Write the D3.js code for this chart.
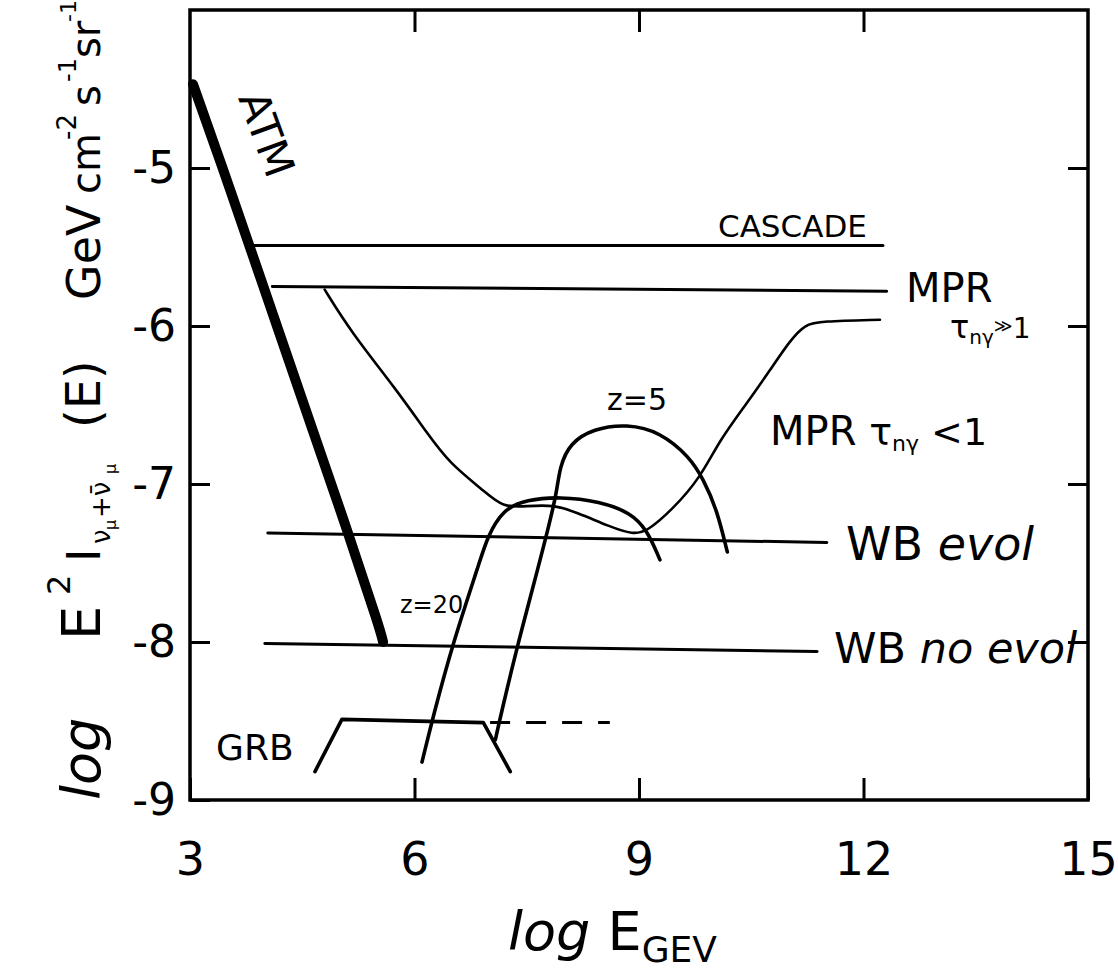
<!DOCTYPE html>
<html>
<head>
<meta charset="utf-8">
<script src="https://cdn.jsdelivr.net/npm/d3@7.9.0/dist/d3.min.js"></script>
<style>
  body { margin: 0; background: #fff; }
  svg { display: block; font-family: "DejaVu Sans", sans-serif; }
  .lbl { fill: #000; }
</style>
</head>
<body>
<svg width="1118" height="974"></svg>
<script>
// ---- data (log E in GeV, log flux) ----
const xTicks = [3, 6, 9, 12, 15];
const yTicks = [-5, -6, -7, -8, -9];

const atmX = [3.04, 3.43, 3.80, 4.19, 4.64, 5.10, 5.54, 5.58];
const atmY = [-4.47, -4.99, -5.50, -6.04, -6.66, -7.29, -7.92, -8.00];

const cascadeX = [3.80, 12.26];
const cascadeY = [-5.49, -5.49];
const mprX = [4.10, 12.31];
const mprY = [-5.75, -5.78];
const wbEvolX = [4.04, 11.51];
const wbEvolY = [-7.31, -7.37];
const wbNoEvolX = [4.00, 11.38];
const wbNoEvolY = [-8.01, -8.06];

// MPR tau >> 1 curve
const mprCurveX = [4.80, 5.14, 5.77, 6.17, 6.47, 6.92, 7.18, 7.50, 7.85, 8.17, 8.61, 8.92, 9.11, 9.45, 9.82, 10.08, 10.44, 10.75, 11.02, 11.22, 11.42, 12.22];
const mprCurveY = [-5.77, -6.03, -6.41, -6.68, -6.87, -7.04, -7.15, -7.14, -7.13, -7.18, -7.27, -7.32, -7.30, -7.16, -6.96, -6.72, -6.49, -6.28, -6.09, -5.99, -5.97, -5.96];

// z = 20
const z20X = [6.10, 6.25, 6.51, 6.88, 6.97, 7.18, 7.50, 7.94, 8.48, 8.88, 9.11, 9.28];
const z20Y = [-8.76, -8.47, -8.01, -7.48, -7.34, -7.16, -7.10, -7.08, -7.11, -7.18, -7.29, -7.48];

// z = 5
const z5X = [7.08, 7.14, 7.37, 7.68, 7.77, 7.90, 7.94, 8.08, 8.39, 8.84, 9.28, 9.68, 9.86, 10.04, 10.18];
const z5Y = [-8.62, -8.49, -8.03, -7.48, -7.31, -7.06, -6.89, -6.74, -6.65, -6.62, -6.67, -6.83, -6.97, -7.16, -7.43];

// GRB
const grbX = [4.67, 5.03, 6.92, 7.28];
const grbY = [-8.82, -8.49, -8.51, -8.82];
const grbDashX = [7.01, 8.61];
const grbDashY = [-8.51, -8.51];

const pts = (xs, ys) => xs.map((x, i) => [x, ys[i]]);

const svg = d3.select('svg');
const x = d3.scaleLinear().domain([3, 15]).range([190, 1088]);
const y = d3.scaleLinear().domain([-9, -4]).range([800, 10]);

// frame
svg.append('rect')
  .attr('x', x(3)).attr('y', y(-4))
  .attr('width', x(15) - x(3)).attr('height', y(-9) - y(-4))
  .attr('fill', 'none').attr('stroke', '#000').attr('stroke-width', 3.5);

const styleAxis = g => {
  g.select('.domain').remove();
  g.selectAll('.tick line').attr('stroke', '#000').attr('stroke-width', 3);
  g.selectAll('.tick text').attr('fill', '#000').attr('font-family', '"DejaVu Sans", sans-serif');
};

svg.append('g')
  .attr('transform', `translate(0,${y(-9)})`)
  .call(d3.axisBottom(x).tickValues(xTicks).tickSize(-22).tickPadding(42).tickFormat(d3.format('d')))
  .call(styleAxis)
  .selectAll('.tick text').attr('font-size', 46);

svg.append('g')
  .attr('transform', `translate(0,${y(-4)})`)
  .call(d3.axisTop(x).tickValues([6, 9, 12]).tickSize(-22).tickFormat(''))
  .call(styleAxis);

svg.append('g')
  .attr('transform', `translate(${x(3)},0)`)
  .call(d3.axisLeft(y).tickValues(yTicks).tickSize(-20).tickPadding(14).tickFormat(d => String(d)))
  .call(styleAxis)
  .selectAll('.tick text').attr('font-size', 44);

svg.append('g')
  .attr('transform', `translate(${x(15)},0)`)
  .call(d3.axisRight(y).tickValues([-5, -6, -7, -8]).tickSize(-20).tickFormat(''))
  .call(styleAxis);

// lines
const straight = d3.line().x(d => x(d[0])).y(d => y(d[1]));
const smooth = d3.line().x(d => x(d[0])).y(d => y(d[1])).curve(d3.curveBasis);

const draw = (data, gen, w, extra) => {
  const p = svg.append('path').attr('d', gen(data))
    .attr('fill', 'none').attr('stroke', '#000').attr('stroke-width', w)
    .attr('stroke-linejoin', 'round').attr('stroke-linecap', 'round');
  if (extra) extra(p);
  return p;
};

draw(pts(cascadeX, cascadeY), straight, 3);
draw(pts(mprX, mprY), straight, 3);
draw(pts(wbEvolX, wbEvolY), straight, 3);
draw(pts(wbNoEvolX, wbNoEvolY), straight, 3);
draw(pts(mprCurveX, mprCurveY), smooth, 2.6);
draw(pts(z20X, z20Y), smooth, 3.6);
draw(pts(z5X, z5Y), smooth, 3.6);
draw(pts(grbX, grbY), straight, 3.6);
draw(pts(grbDashX, grbDashY), straight, 3, p => p.attr('stroke-dasharray', '20 16').attr('stroke-linecap', 'butt'));
draw(pts(atmX, atmY), smooth, 10);

// labels
const text = (tx, ty, s, size, opts = {}) => {
  const t = svg.append('text').attr('class', 'lbl')
    .attr('x', tx).attr('y', ty).attr('font-size', size).text(s);
  if (opts.italic) t.attr('font-style', 'italic');
  if (opts.rotate) t.attr('transform', `rotate(${opts.rotate},${tx},${ty})`);
  return t;
};

text(238, 98, 'ATM', 42, { rotate: 70 });
text(718, 237, 'CASCADE', 31);
text(906, 302, 'MPR', 40);

let t = text(950, 338, 'τ', 32);
t.append('tspan').attr('font-size', 20).attr('dy', 6).text('nγ');
t.append('tspan').attr('font-size', 18).attr('dy', -12).text('≫');
t.append('tspan').attr('font-size', 28).attr('dy', 6).text('1');

t = text(770, 445, 'MPR ', 40);
t.append('tspan').attr('font-size', 38).text('τ');
t.append('tspan').attr('font-size', 22).attr('dy', 6).text('nγ');
t.append('tspan').attr('font-size', 38).attr('dy', -6).text(' <1');

t = text(846, 560, 'WB  ', 46);
t.append('tspan').attr('font-style', 'italic').text('evol');
t = text(834, 663, 'WB ', 43);
t.append('tspan').attr('font-style', 'italic').text('no evol');

text(607, 410, 'z=5', 30);
text(400, 613, 'z=20', 24);
text(216, 760, 'GRB', 36);

// x axis title
t = text(508, 950, 'log', 54, { italic: true });
t.append('tspan').attr('font-style', 'normal').text(' E');
t.append('tspan').attr('font-style', 'normal').attr('font-size', 36).attr('dy', 12).text('GEV');

// y axis title (rotated); u = distance from bottom (screen y = 800 - u)
const yt = svg.append('text').attr('class', 'lbl')
  .attr('transform', 'translate(100,800) rotate(-90)');
const piece = (u, s, size, dy, italic) => {
  const sp = yt.append('tspan').attr('x', u).attr('y', dy).attr('font-size', size).text(s);
  if (italic) sp.attr('font-style', 'italic');
};
piece(0, 'log', 54, 0, true);
piece(160, 'E', 54, 0);
piece(205, '2', 32, -30);
piece(238, 'I', 46, 0);
piece(256, 'ν', 26, 10);
piece(270, 'μ', 16, 16);
piece(282, '+ν̄', 26, 10);
piece(326, 'μ', 16, 16);
piece(372, '(E)', 48, 0);
piece(500, 'GeV', 46, 0);
piece(606, 'cm', 40, 0);
piece(660, '-2', 26, -24);
piece(694, 's', 40, 0);
piece(718, '-1', 24, -24);
piece(742, 'sr', 40, 0);
piece(778, '-1', 22, -24);
</script>
</body>
</html>
